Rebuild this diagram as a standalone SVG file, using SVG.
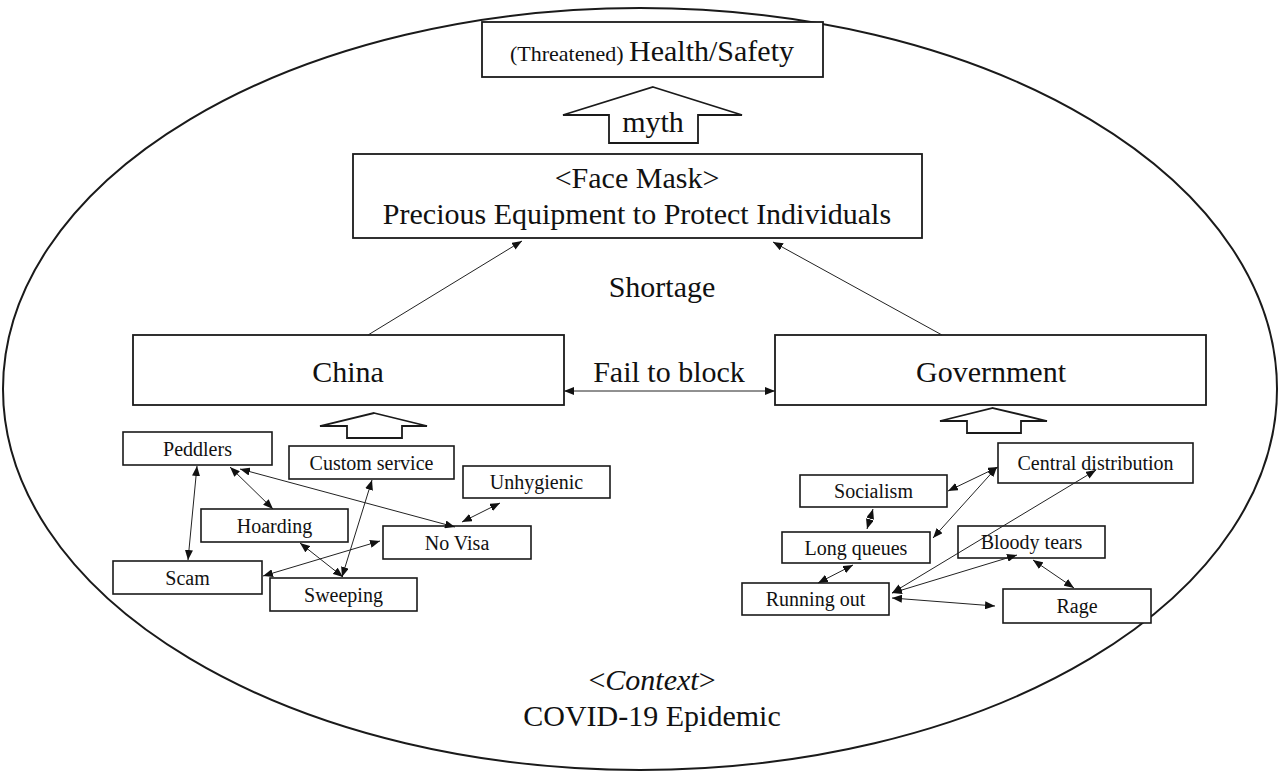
<svg xmlns="http://www.w3.org/2000/svg" width="1279" height="771" viewBox="0 0 1279 771">
<style>
.box{fill:#fff;stroke:#1a1a1a;stroke-width:1.8}
.sb{fill:#fff;stroke:#1a1a1a;stroke-width:1.6}
.t{font-family:"Liberation Serif","Times New Roman",serif;fill:#111;text-anchor:middle}
.big{font-size:30px}
.sm{font-size:20px}
.c{stroke:#222;stroke-width:1;fill:none}
.hollow{fill:#fff;stroke:#1a1a1a;stroke-width:1.8;stroke-linejoin:miter}
</style>
<defs>
<marker id="ah" viewBox="0 0 10 8" refX="10" refY="4" markerWidth="10" markerHeight="8" markerUnits="userSpaceOnUse" orient="auto-start-reverse">
<path d="M0,0 L10,4 L0,8 z" fill="#111"/>
</marker>
</defs>
<rect width="1279" height="771" fill="#fff"/>
<ellipse id="context" cx="640" cy="389" rx="637" ry="381" fill="none" stroke="#1a1a1a" stroke-width="2"/>

<g id="health">
<rect class="box" x="482" y="22" width="341" height="55"/>
<text class="t" x="652" y="61"><tspan font-size="22">(Threatened) </tspan><tspan font-size="30">Health/Safety</tspan></text>
</g>

<g id="myth">
<path class="hollow" d="M653,87 L742,115 L698,115 L698,143 L609,143 L609,115 L563,115 Z"/>
<text class="t big" x="653" y="132">myth</text>
</g>

<g id="facemask">
<rect class="box" x="353" y="154" width="569" height="84"/>
<text class="t big" x="637" y="188">&lt;Face Mask&gt;</text>
<text class="t big" x="637" y="224">Precious Equipment to Protect Individuals</text>
</g>

<g id="shortage"><text class="t big" x="662" y="297">Shortage</text></g>

<g id="china">
<rect class="box" x="133" y="335" width="431" height="70"/>
<text class="t big" x="348" y="382">China</text>
</g>
<g id="government">
<rect class="box" x="775" y="335" width="431" height="70"/>
<text class="t big" x="991" y="382">Government</text>
</g>
<g id="failtoblock"><text class="t big" x="669" y="382">Fail to block</text></g>

<g id="china-arrow"><path class="hollow" d="M374,413 L427,426 L402,426 L402,438 L347,438 L347,426 L320,426 Z"/></g>
<g id="gov-arrow"><path class="hollow" d="M993,408 L1047,421 L1021,421 L1021,433 L967,433 L967,421 L940,421 Z"/></g>

<g id="peddlers"><rect class="sb" x="123" y="432" width="149" height="33"/><text class="t sm" x="197.5" y="456">Peddlers</text></g>
<g id="custom"><rect class="sb" x="289" y="446" width="165" height="33"/><text class="t sm" x="371.5" y="470">Custom service</text></g>
<g id="unhygienic"><rect class="sb" x="463" y="466" width="147" height="32"/><text class="t sm" x="536.5" y="489">Unhygienic</text></g>
<g id="hoarding"><rect class="sb" x="201" y="509" width="147" height="33"/><text class="t sm" x="274.5" y="533">Hoarding</text></g>
<g id="novisa"><rect class="sb" x="383" y="526" width="148" height="33"/><text class="t sm" x="457" y="550">No Visa</text></g>
<g id="scam"><rect class="sb" x="113" y="561" width="149" height="33"/><text class="t sm" x="187.5" y="585">Scam</text></g>
<g id="sweeping"><rect class="sb" x="270" y="578" width="147" height="33"/><text class="t sm" x="343.5" y="602">Sweeping</text></g>

<g id="central"><rect class="sb" x="998" y="443" width="195" height="40"/><text class="t sm" x="1095.5" y="470">Central distribution</text></g>
<g id="socialism"><rect class="sb" x="800" y="475" width="147" height="32"/><text class="t sm" x="873.5" y="498">Socialism</text></g>
<g id="longqueues"><rect class="sb" x="782" y="532" width="148" height="31"/><text class="t sm" x="856" y="555">Long queues</text></g>
<g id="bloody"><rect class="sb" x="958" y="526" width="147" height="32"/><text class="t sm" x="1031.5" y="549">Bloody tears</text></g>
<g id="runningout"><rect class="sb" x="742" y="583" width="147" height="32"/><text class="t sm" x="815.5" y="606">Running out</text></g>
<g id="rage"><rect class="sb" x="1003" y="589" width="148" height="34"/><text class="t sm" x="1077" y="613">Rage</text></g>

<g id="context-label">
<text class="t big" x="652" y="690">&lt;<tspan font-style="italic">Context</tspan>&gt;</text>
<text class="t big" x="652" y="726">COVID-19 Epidemic</text>
</g>

<g id="connectors">
<line class="c" x1="368" y1="335" x2="522" y2="241" marker-end="url(#ah)"/>
<line class="c" x1="942" y1="335" x2="773" y2="242" marker-end="url(#ah)"/>
<line class="c" x1="564" y1="391" x2="775" y2="391" marker-start="url(#ah)" marker-end="url(#ah)"/>

<line class="c" x1="197" y1="466" x2="188" y2="560" marker-start="url(#ah)" marker-end="url(#ah)"/>
<line class="c" x1="230" y1="467" x2="273" y2="509" marker-start="url(#ah)" marker-end="url(#ah)"/>
<line class="c" x1="240" y1="469" x2="455" y2="527" marker-start="url(#ah)" marker-end="url(#ah)"/>
<line class="c" x1="372" y1="480" x2="342" y2="577" marker-start="url(#ah)" marker-end="url(#ah)"/>
<line class="c" x1="300" y1="543" x2="343" y2="577" marker-start="url(#ah)" marker-end="url(#ah)"/>
<line class="c" x1="263" y1="576" x2="380" y2="541" marker-start="url(#ah)" marker-end="url(#ah)"/>
<line class="c" x1="500" y1="503" x2="462" y2="522" marker-start="url(#ah)" marker-end="url(#ah)"/>

<line class="c" x1="948" y1="491" x2="998" y2="467" marker-start="url(#ah)" marker-end="url(#ah)"/>
<line class="c" x1="933" y1="538" x2="997" y2="467" marker-start="url(#ah)" marker-end="url(#ah)"/>
<line class="c" x1="873" y1="509" x2="867" y2="529" marker-start="url(#ah)" marker-end="url(#ah)"/>
<line class="c" x1="853" y1="565" x2="818" y2="583" marker-start="url(#ah)" marker-end="url(#ah)"/>
<line class="c" x1="892" y1="593" x2="1096" y2="470" marker-start="url(#ah)" marker-end="url(#ah)"/>
<line class="c" x1="892" y1="593" x2="1017" y2="555" marker-start="url(#ah)" marker-end="url(#ah)"/>
<line class="c" x1="892" y1="598" x2="995" y2="606" marker-start="url(#ah)" marker-end="url(#ah)"/>
<line class="c" x1="1033" y1="560" x2="1074" y2="588" marker-start="url(#ah)" marker-end="url(#ah)"/>
</g>
</svg>
